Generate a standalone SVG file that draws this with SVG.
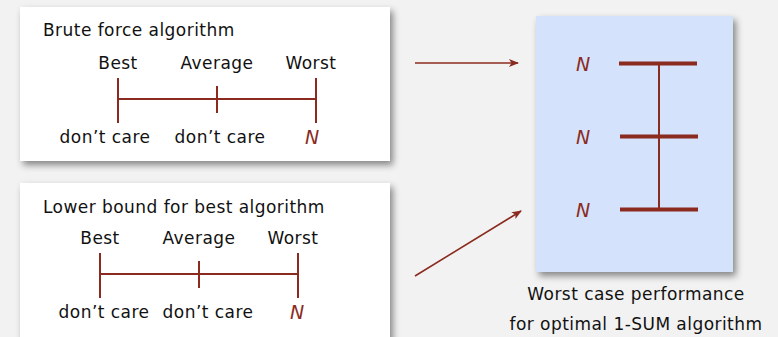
<svg xmlns="http://www.w3.org/2000/svg" width="778" height="337" viewBox="0 0 778 337">
  <defs>
    <filter id="shadow" x="-10%" y="-10%" width="125%" height="130%">
      <feDropShadow dx="3" dy="4" stdDeviation="3.5" flood-color="#000" flood-opacity="0.45"/>
    </filter>
    <marker id="arrow" viewBox="0 0 10 10" refX="9" refY="5" markerWidth="10" markerHeight="10" markerUnits="userSpaceOnUse" orient="auto">
      <path d="M0,1 L10,5 L0,9 L2.5,5 Z" fill="#8b2b1f"/>
    </marker>
    <style>
      .panel { fill: #ffffff; filter: url(#shadow); }
      .perf { fill: #d5e2fb; filter: url(#shadow); }
      .lbl { font-family: "DejaVu Sans", Verdana, sans-serif; font-size: 17px; letter-spacing: 0.45px; fill: #111; }
      .mid { text-anchor: middle; }
      .n { font-family: "DejaVu Sans", Verdana, sans-serif; font-style: italic; font-size: 19px; fill: #8b2b1f; text-anchor: middle; }
      .tick { stroke: #8b2b1f; stroke-width: 2; fill: none; }
      .bar { stroke: #8b2b1f; stroke-width: 4; fill: none; }
      .conn { stroke: #8b2b1f; stroke-width: 1.6; fill: none; marker-end: url(#arrow); }
    </style>
  </defs>

  <rect width="778" height="337" fill="#f2f2f2"/>

  <!-- brute force panel -->
  <g id="brute-force">
    <rect class="panel" x="20" y="7" width="370" height="154"/>
    <text class="lbl" x="43" y="36">Brute force algorithm</text>
    <text class="lbl mid" x="118" y="69">Best</text>
    <text class="lbl mid" x="217" y="69">Average</text>
    <text class="lbl mid" x="311" y="69">Worst</text>
    <path class="tick" d="M118,78 V123 M118,99 H316 M217,86 V113 M316,78 V123"/>
    <text class="lbl mid" x="105" y="143">don’t care</text>
    <text class="lbl mid" x="220" y="143">don’t care</text>
    <text class="n" x="312" y="144">N</text>
  </g>

  <!-- lower bound panel -->
  <g id="lower-bound">
    <rect class="panel" x="20" y="183" width="370" height="170"/>
    <text class="lbl" x="43" y="213">Lower bound for best algorithm</text>
    <text class="lbl mid" x="100" y="244">Best</text>
    <text class="lbl mid" x="199" y="244">Average</text>
    <text class="lbl mid" x="293" y="244">Worst</text>
    <path class="tick" d="M100,253 V298 M100,274 H298 M199,261 V288 M298,253 V298"/>
    <text class="lbl mid" x="104" y="318">don’t care</text>
    <text class="lbl mid" x="208" y="318">don’t care</text>
    <text class="n" x="297" y="319">N</text>
  </g>

  <!-- optimal worst case panel -->
  <g id="optimal">
    <rect class="perf" x="536" y="16" width="197" height="256"/>
    <text class="n" x="583" y="71">N</text>
    <text class="n" x="583" y="144">N</text>
    <text class="n" x="583" y="217">N</text>
    <path class="bar" d="M619,63.5 H697 M620,136.5 H698 M620,209.5 H698"/>
    <path class="tick" d="M659,63.5 V209.5"/>
    <text class="lbl mid" x="636" y="300">Worst case performance</text>
    <text class="lbl mid" x="636" y="330">for optimal 1-SUM algorithm</text>
  </g>

  <g id="connectors">
    <path class="conn" d="M415,63 H518"/>
    <path class="conn" d="M415,276 L521,211"/>
  </g>
</svg>
